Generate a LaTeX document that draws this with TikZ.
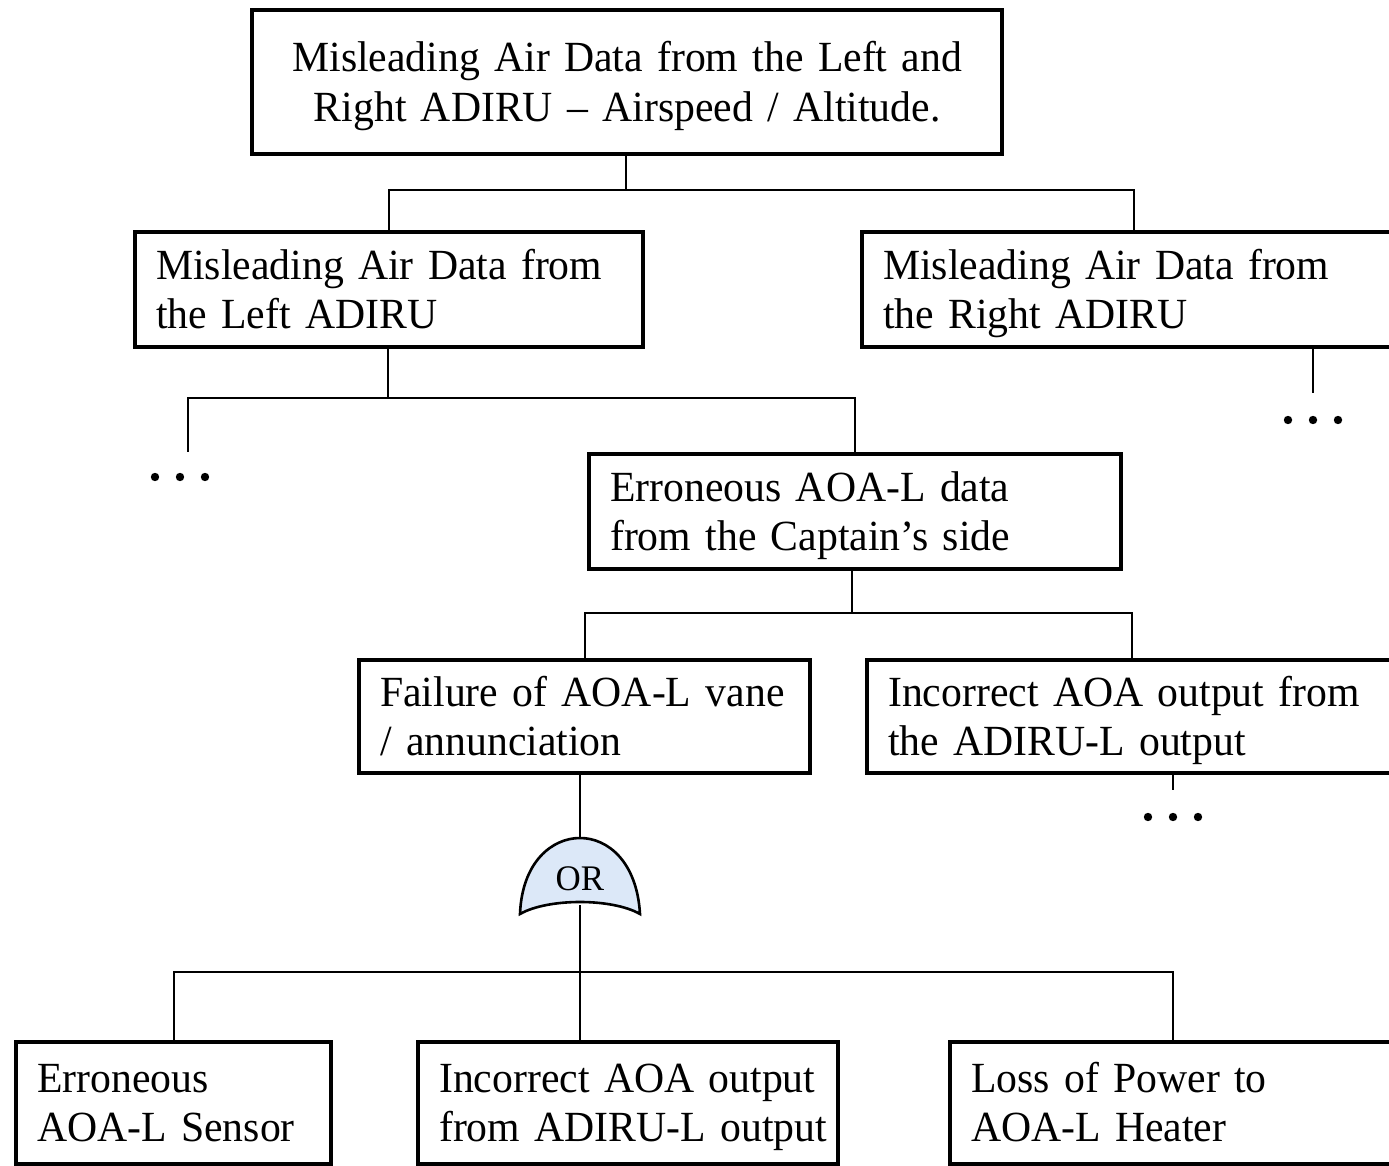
\documentclass[tikz,border=0pt]{standalone}
\usepackage{fontspec}
\setmainfont{Liberation Serif}[WordSpace=0.8, FakeStretch=0.97]
\begin{document}
\begin{tikzpicture}[x=0.5pt,y=-0.5pt,
  box/.style={draw, line width=2.2pt, anchor=north west, inner xsep=10.5pt,
    inner ysep=0pt, text height=16pt, text depth=26.5pt,
    font=\fontsize{21.5}{24.5}\selectfont},
  leftbox/.style={box, align=left},
  wire/.style={line width=0.9pt},
  gatestyle/.style={draw, line width=1.3pt, fill=gatefill},
  dot/.style={circle, fill, inner sep=0pt, minimum size=4.2pt}]
\definecolor{gatefill}{HTML}{DCE8F8}
\clip (0,0) rectangle (1389,1166);

% boxes
\node[box, align=center, minimum width=375pt, minimum height=72pt, text width=354pt,
  font=\fontsize{21.5}{25}\selectfont, text depth=27pt]
  (top) at (250,8) {Misleading Air Data from the Left and\\Right ADIRU – Airspeed / Altitude.};
\node[leftbox, minimum width=254pt, minimum height=57.5pt, text width=233pt]
  (L1) at (133,230) {\mbox{Misleading Air Data from}\\\mbox{the Left ADIRU}};
\node[leftbox, minimum width=272pt, minimum height=57.5pt, text width=251pt]
  (R1) at (860,230) {\mbox{Misleading Air Data from}\\\mbox{the Right ADIRU}};
\node[leftbox, minimum width=266pt, minimum height=57.5pt, text width=245pt]
  (E) at (587,452) {\mbox{Erroneous AOA-L data}\\\mbox{from the Captain’s side}};
\node[leftbox, minimum width=225.5pt, minimum height=56.5pt, text width=204.5pt]
  (F) at (357,658) {\mbox{Failure of AOA-L vane}\\\mbox{/ annunciation}};
\node[leftbox, minimum width=265pt, minimum height=56.5pt, text width=244pt]
  (I) at (865,658) {\mbox{Incorrect AOA output from}\\\mbox{the ADIRU-L output}};
\node[leftbox, minimum width=157.5pt, minimum height=61pt, text width=136.5pt]
  (B1) at (14,1040) {\mbox{Erroneous}\\\mbox{AOA-L Sensor}};
\node[leftbox, minimum width=210pt, minimum height=61pt, text width=189pt]
  (B2) at (416,1040) {\mbox{Incorrect AOA output}\\\mbox{from ADIRU-L output}};
\node[leftbox, minimum width=225pt, minimum height=61pt, text width=204pt]
  (B3) at (948,1040) {\mbox{Loss of Power to}\\\mbox{AOA-L Heater}};

% OR gate
\coordinate (gtop) at (580,838);
\coordinate (gbot) at (580,905);
\draw[gatestyle] (520,914) .. controls (522,862) and (552,838) .. (580,838)
  .. controls (608,838) and (637,862) .. (640,914)
  .. controls (612,898) and (548,898) .. (520,914) -- cycle;
\node[font=\fontsize{18}{21}\selectfont] (gate) at (580,879) {OR};

% junctions
\coordinate (j1) at (626,190);
\coordinate (j2) at (388,398);
\coordinate (j3) at (852,613);
\coordinate (j4) at (580,972);
\coordinate (eR1) at (1313,393);
\coordinate (eL) at (188,452);
\coordinate (eI) at (1173,790);

% connectors
\draw[wire] (top.south -| j1) -- (j1);
\draw[wire] (j1) -| (L1.north);
\draw[wire] (j1) -| (R1.north);
\draw[wire] (L1.south -| j2) -- (j2);
\draw[wire] (j2) -| (eL);
\draw[wire] (j2) -| (E.north);
\draw[wire] (E.south -| j3) -- (j3);
\draw[wire] (j3) -| (F.north);
\draw[wire] (j3) -| (I.north);
\draw[wire] (R1.south -| eR1) -- (eR1);
\draw[wire] (I.south -| eI) -- (eI);
\draw[wire] (F.south -| gtop) -- (gtop);
\draw[wire] (gbot) -- (j4);
\draw[wire] (j4) -| (B1.north);
\draw[wire] (j4) -- (B2.north -| j4);
\draw[wire] (j4) -| (B3.north -| eI);

% continuation marks
\foreach \nm/\cx/\cy in {dl/180/477, dr/1313/420, di/1173/817} {
  \node[dot] (\nm a) at (\cx-25,\cy) {};
  \node[dot] (\nm b) at (\cx,\cy) {};
  \node[dot] (\nm c) at (\cx+25,\cy) {};
}
\end{tikzpicture}
\end{document}
